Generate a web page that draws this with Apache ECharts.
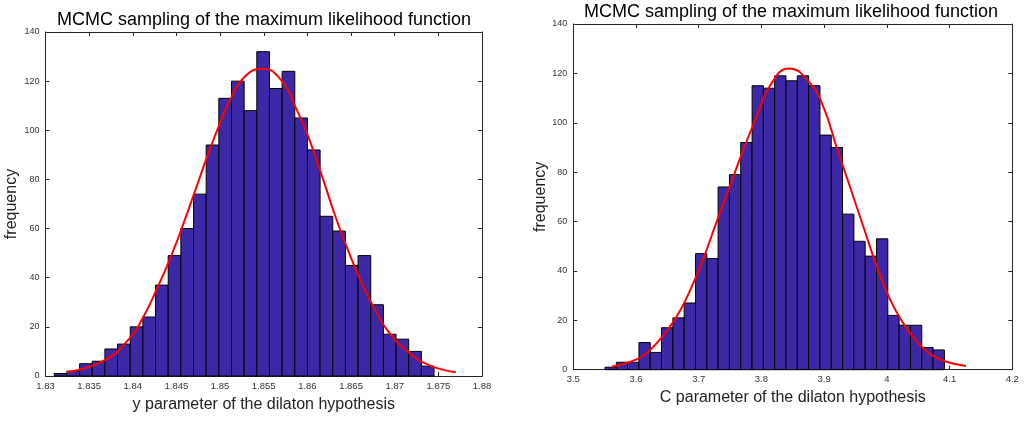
<!DOCTYPE html>
<html>
<head>
<meta charset="utf-8">
<script src="https://cdn.jsdelivr.net/npm/echarts@6/dist/echarts.min.js"></script>
<style>
html,body{margin:0;padding:0;background:#fff;}
#main{width:1028px;height:421px;}
</style>
</head>
<body>
<div id="main"></div>
<script>
// 左图 y 参数直方图
var leftBinWidth = 0.00145;
var leftCenters = [1.83173,1.83318,1.83463,1.83608,1.83753,1.83898,1.84043,1.84188,1.84333,1.84478,
    1.84623,1.84768,1.84913,1.85058,1.85203,1.85348,1.85493,1.85638,1.85783,1.85928,
    1.86073,1.86218,1.86363,1.86508,1.86653,1.86798,1.86943,1.87088,1.87233,1.87378];
var leftCounts = [1,2,5,6,11,13,20,24,37,49,60,74,94,113,120,108,132,117,124,105,92,65,59,45,49,29,17,15,10,4];
// 左图拟合曲线
var leftFitX = [1.83243,1.8368,1.8397,1.8412,1.8427,1.8443,1.8458,1.8473,1.8488,1.85,1.8511,1.8526,1.8548,
    1.85685,1.85876,1.8603,1.8618,1.8633,1.8649,1.8664,1.8679,1.8694,1.8717,1.874,1.877];
var leftFitY = [1.5,6.5,15.6,24,35,48,62,77,92,103,112,121,125,121,108.5,95.5,80,64,49,36.5,26,17.5,9.3,4.3,1.5];

// 右图 C 参数直方图
var rightBinWidth = 0.01804;
var rightCenters = [3.5595,3.5776,3.5956,3.6137,3.6317,3.6497,3.6678,3.6858,3.7039,3.7219,
    3.7399,3.7580,3.7760,3.7941,3.8121,3.8301,3.8482,3.8662,3.8843,3.9023,
    3.9203,3.9384,3.9564,3.9745,3.9925,4.0105,4.0286,4.0466,4.0647,4.0827];
var rightCounts = [1,3,3,11,7,17,21,27,47,45,74,79,92,115,114,119,117,119,115,95,90,63,52,46,53,22,18,18,9,8];
// 右图拟合曲线
var rightFitX = [3.5612,3.6011,3.6223,3.6435,3.6648,3.686,3.7073,3.7286,3.7499,3.771,3.7924,3.8136,3.844,
    3.8775,3.8986,3.92,3.9413,3.9624,3.9838,4.005,4.0262,4.0476,4.0688,4.0954,4.1262];
var rightFitY = [1.2,4.2,8,14,21.5,32,45,60,74.5,89,102.5,115,122,116,106.5,90,74,58,42,28.5,18.8,11.5,6.4,3.2,1.5];

var titleText = 'MCMC sampling of the maximum likelihood function';

var FONT = 'Liberation Sans, Helvetica, Arial, sans-serif';
var AXIS_COLOR = '#262626';
var BAR_COLOR = '#3d28a8';

function pairs(xs, ys){
    var out = [];
    for(var i = 0; i < xs.length; i++){
        out.push([xs[i], ys[i]]);
    }
    return out;
}

function histItem(w){
    return function(params, api){
        var c = api.value(0), h = api.value(1);
        var p0 = api.coord([c - w/2, h]);
        var p1 = api.coord([c + w/2, 0]);
        return {
            type: 'rect',
            shape: {x: p0[0], y: p0[1], width: p1[0]-p0[0], height: p1[1]-p0[1]},
            style: {fill: BAR_COLOR, stroke: '#000', lineWidth: 1}
        };
    };
}

function fmt(v){
    return String(+v.toFixed(3));
}

function xAxisOf(grid, min, max, interval, name, gap, top){
    return {
        type: 'value', gridIndex: grid, min: min, max: max, interval: interval,
        position: top ? 'top' : 'bottom',
        name: top ? '' : name, nameLocation: 'middle', nameGap: gap,
        nameTextStyle: {fontFamily: FONT, fontSize: 16, color: '#222'},
        axisLine: {show: true, onZero: false, lineStyle: {color: AXIS_COLOR, width: 1}},
        axisTick: {show: true, inside: true, length: 4, lineStyle: {color: AXIS_COLOR}},
        axisLabel: {show: !top, formatter: fmt, fontFamily: FONT, fontSize: 9.5, color: '#333', margin: 5,
            showMinLabel: true, showMaxLabel: true},
        splitLine: {show: false}
    };
}

function yAxisOf(grid, name, gap, right){
    return {
        type: 'value', gridIndex: grid, min: 0, max: 140, interval: 20,
        position: right ? 'right' : 'left',
        name: right ? '' : name, nameLocation: 'middle', nameGap: gap,
        nameTextStyle: {fontFamily: FONT, fontSize: 16, color: '#222'},
        axisLine: {show: true, onZero: false, lineStyle: {color: AXIS_COLOR, width: 1}},
        axisTick: {show: true, inside: true, length: 4, lineStyle: {color: AXIS_COLOR}},
        axisLabel: {show: !right, fontFamily: FONT, fontSize: 9, color: '#333', margin: 6,
            showMinLabel: true, showMaxLabel: true},
        splitLine: {show: false}
    };
}

var myChart = echarts.init(document.getElementById('main'), null, {renderer: 'canvas'});

var option = {
    backgroundColor: '#fff',
    animation: false,
    title: [
        {text: titleText, left: 264, top: 11, padding: 0, textAlign: 'center',
            textStyle: {fontFamily: FONT, fontSize: 18, fontWeight: 'normal', color: '#000'}},
        {text: titleText, left: 791, top: 3, padding: 0, textAlign: 'center',
            textStyle: {fontFamily: FONT, fontSize: 18, fontWeight: 'normal', color: '#000'}}
    ],
    grid: [
        {left: 45.5, right: 546, top: 32, bottom: 45},
        {left: 573.3, right: 15.7, top: 24, bottom: 51.3}
    ],
    xAxis: [
        xAxisOf(0, 1.83, 1.88, 0.005, 'y parameter of the dilaton hypothesis', 21, false),
        xAxisOf(0, 1.83, 1.88, 0.005, '', 0, true),
        xAxisOf(1, 3.5, 4.2, 0.1, 'C parameter of the dilaton hypothesis', 20, false),
        xAxisOf(1, 3.5, 4.2, 0.1, '', 0, true)
    ],
    yAxis: [
        yAxisOf(0, 'frequency', 26, false),
        yAxisOf(0, '', 0, true),
        yAxisOf(1, 'frequency', 25, false),
        yAxisOf(1, '', 0, true)
    ],
    series: [
        {type: 'custom', xAxisIndex: 0, yAxisIndex: 0, renderItem: histItem(leftBinWidth),
            data: pairs(leftCenters, leftCounts), encode: {x: 0, y: 1}},
        {type: 'line', xAxisIndex: 0, yAxisIndex: 0, smooth: true, showSymbol: false,
            lineStyle: {color: '#ff0000', width: 2}, data: pairs(leftFitX, leftFitY), z: 5},
        {type: 'custom', xAxisIndex: 2, yAxisIndex: 2, renderItem: histItem(rightBinWidth),
            data: pairs(rightCenters, rightCounts), encode: {x: 0, y: 1}},
        {type: 'line', xAxisIndex: 2, yAxisIndex: 2, smooth: true, showSymbol: false,
            lineStyle: {color: '#ff0000', width: 2}, data: pairs(rightFitX, rightFitY), z: 5}
    ]
};
myChart.setOption(option);
</script>
</body>
</html>
